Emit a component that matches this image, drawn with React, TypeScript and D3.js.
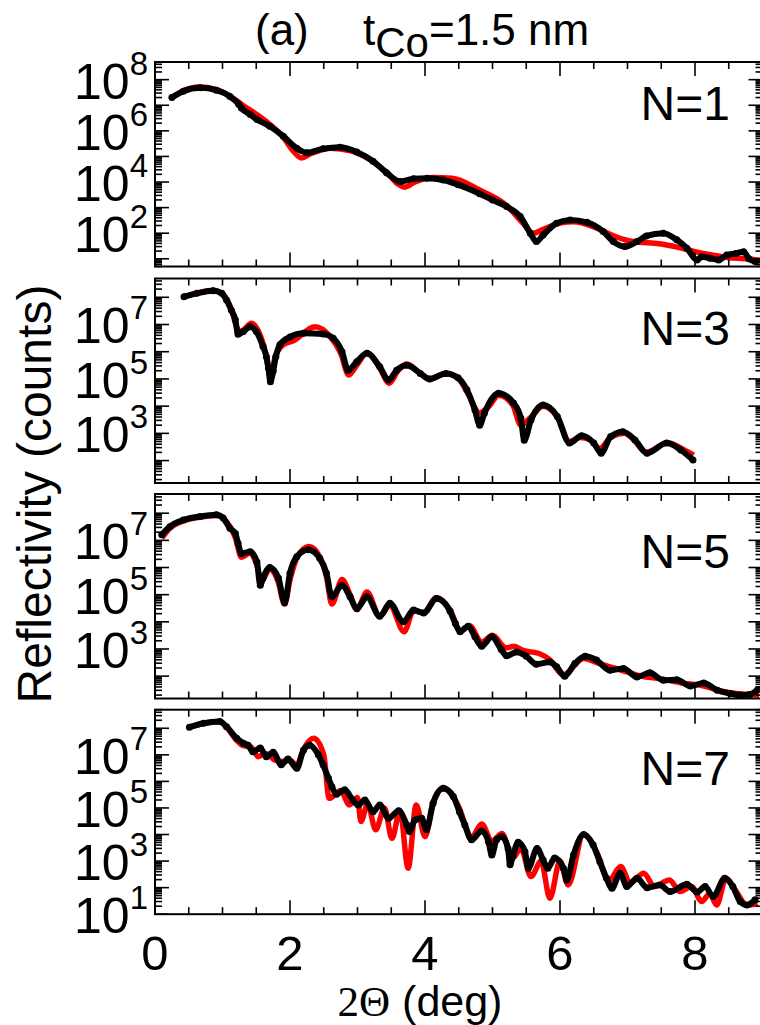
import React from "react";
import * as d3 from "d3";

const W = 760;
const H = 1025;
const LEFT = 155;
const RIGHT = 762.5;
const PANEL_TOPS = [62, 278.5, 494, 709.7];
const PANEL_H = 204.5;

// axis ranges (counts) and labelled decades per panel
const yLo = [5, 15, 15, 10];
const yHi = [4.9e8, 4.9e8, 5.1e8, 5.0e8];
const yLabelExp = [[2, 4, 6, 8], [3, 5, 7], [3, 5, 7], [1, 3, 5, 7]];
const panelNames = ["N=1", "N=3", "N=5", "N=7"];
const nameBaseline = [120, 345, 568, 785];
const xTickLabels = [0, 2, 4, 6, 8];

// N=1
const n1DataX = [0.25, 0.42, 0.67, 0.91, 1.11, 1.24, 1.28, 1.41, 1.51, 1.7, 1.9, 2.1, 2.25, 2.49, 2.74, 2.99, 3.23, 3.43, 3.63, 3.83, 4.03, 4.27, 4.49, 4.81, 5.0, 5.21, 5.41, 5.56, 5.65, 5.75, 5.95, 6.15, 6.4, 6.64, 6.79, 6.96, 7.14, 7.28, 7.53, 7.73, 7.88, 8.03, 8.1, 8.22, 8.35, 8.47, 8.6, 8.72, 8.8, 8.89];
const n1Data = [2.0e7, 3.5e7, 4.8e7, 3.9e7, 2.2e7, 1.1e7, 7.8e6, 4.4e6, 2.8e6, 1.5e6, 6.2e5, 2.1e5, 1.4e5, 2.0e5, 2.3e5, 1.5e5, 6.5e4, 2.3e4, 1.05e4, 1.35e4, 1.4e4, 1.2e4, 7.9e3, 3.5e3, 2.0e3, 1.1e3, 450, 100, 47, 85, 245, 330, 265, 117, 47, 30, 47, 78, 100, 55, 26, 8.9, 12, 10.5, 9, 14, 16, 19, 10, 7.8];
const n1FitX = [0.25, 0.45, 0.65, 0.9, 1.1, 1.3, 1.5, 1.7, 1.9, 2.05, 2.17, 2.3, 2.6, 2.9, 3.2, 3.45, 3.6, 3.7, 3.85, 4.1, 4.4, 4.8, 5.2, 5.45, 5.6, 5.75, 6.0, 6.2, 6.5, 6.75, 7.0, 7.25, 7.5, 7.75, 8.0, 8.25, 8.5, 8.75, 9.0];
const n1Fit = [2.0e7, 4.0e7, 5.2e7, 4.2e7, 2.4e7, 1.0e7, 4.5e6, 1.8e6, 5.6e5, 1.6e5, 8.7e4, 1.26e5, 2.1e5, 1.66e5, 7.1e4, 2.2e4, 8.3e3, 6.3e3, 1.0e4, 1.5e4, 1.4e4, 5.0e3, 1.26e3, 250, 100, 141, 250, 280, 178, 89, 52, 43, 38, 28, 19, 14, 11, 10, 8.5];

// N=3
const n3DataX = [0.43, 0.62, 0.86, 0.99, 1.06, 1.13, 1.19, 1.23, 1.31, 1.41, 1.5, 1.6, 1.65, 1.68, 1.71, 1.75, 1.79, 1.85, 2.0, 2.2, 2.49, 2.64, 2.77, 2.86, 2.99, 3.14, 3.33, 3.46, 3.58, 3.73, 3.93, 4.07, 4.31, 4.49, 4.62, 4.74, 4.81, 4.88, 5.09, 5.31, 5.42, 5.47, 5.57, 5.75, 5.96, 6.14, 6.32, 6.5, 6.61, 6.75, 6.93, 7.11, 7.29, 7.58, 7.79, 7.97];
const n3Data = [1.05e8, 1.4e8, 1.74e8, 1.4e8, 7.9e7, 3.4e7, 1.5e7, 4.4e6, 5.5e6, 8.3e6, 5.5e6, 1.55e6, 6.6e5, 2.5e5, 7.9e4, 1.9e5, 6.6e5, 1.8e6, 3.5e6, 4.8e6, 4.5e6, 3.1e6, 1.0e6, 2.1e5, 4.3e5, 8.7e5, 2.8e5, 9.1e4, 2.1e5, 3.2e5, 1.6e5, 1.0e5, 1.6e5, 1.1e5, 4.0e4, 7.2e3, 2.0e3, 5.5e3, 3.0e4, 1.3e4, 3.6e3, 560, 3.1e3, 1.1e4, 4.2e3, 440, 810, 440, 186, 760, 1.15e3, 575, 186, 440, 245, 105];
const n3FitX = [0.43, 0.62, 0.86, 1.0, 1.08, 1.15, 1.22, 1.27, 1.43, 1.55, 1.63, 1.71, 1.78, 1.9, 2.05, 2.37, 2.6, 2.75, 2.87, 3.0, 3.14, 3.33, 3.47, 3.6, 3.73, 3.93, 4.07, 4.31, 4.5, 4.65, 4.8, 4.95, 5.09, 5.3, 5.42, 5.57, 5.75, 5.96, 6.14, 6.3, 6.45, 6.59, 6.75, 6.95, 7.1, 7.27, 7.6, 7.8, 7.98];
const n3Fit = [1.05e8, 1.4e8, 1.8e8, 1.3e8, 7.1e7, 2.5e7, 7.1e6, 5.6e6, 1.1e7, 4.5e6, 1.1e6, 1.4e5, 6.3e5, 1.8e6, 2.5e6, 8.3e6, 3.5e6, 8.9e5, 1.4e5, 3.5e5, 8.9e5, 2.5e5, 6.9e4, 2.0e5, 3.5e5, 1.6e5, 9.5e4, 1.6e5, 1.0e5, 2.5e4, 5.6e3, 1.0e4, 2.5e4, 1.1e4, 2.0e3, 4.0e3, 1.0e4, 4.0e3, 500, 710, 560, 280, 710, 1.0e3, 560, 200, 450, 280, 160];

// N=5
const n5DataX = [0.1, 0.22, 0.42, 0.67, 0.91, 1.01, 1.11, 1.19, 1.23, 1.28, 1.41, 1.51, 1.56, 1.6, 1.7, 1.83, 1.92, 2.0, 2.1, 2.27, 2.44, 2.54, 2.62, 2.77, 2.89, 2.99, 3.14, 3.33, 3.48, 3.68, 3.83, 3.98, 4.17, 4.37, 4.45, 4.52, 4.64, 4.74, 4.84, 4.99, 5.13, 5.21, 5.36, 5.5, 5.65, 5.85, 5.95, 6.07, 6.22, 6.37, 6.54, 6.74, 6.94, 7.14, 7.33, 7.53, 7.73, 7.93, 8.13, 8.33, 8.52, 8.67, 8.81, 8.93];
const n5Data = [1.6e7, 3.2e7, 5.6e7, 7.6e7, 8.7e7, 6.6e7, 2.8e7, 1.8e7, 7.8e6, 3.3e6, 3.8e6, 1.6e6, 2.2e5, 4.0e5, 1.0e6, 4.0e5, 5.0e4, 6.2e5, 2.5e6, 4.5e6, 2.2e6, 6.2e5, 8.3e4, 2.2e5, 8.3e4, 3.1e4, 8.3e4, 1.6e4, 4.8e4, 1.0e4, 2.7e4, 2.1e4, 7.2e4, 2.5e4, 8.7e3, 4.3e3, 6.9e3, 2.8e3, 1.26e3, 2.8e3, 950, 560, 780, 540, 275, 330, 220, 100, 290, 540, 390, 166, 190, 93, 132, 71, 74, 43, 56, 30, 23, 20, 21, 32];
const n5FitX = [0.1, 0.22, 0.42, 0.67, 0.91, 1.01, 1.11, 1.19, 1.28, 1.41, 1.5, 1.58, 1.7, 1.82, 1.92, 2.0, 2.1, 2.28, 2.44, 2.54, 2.62, 2.77, 2.89, 2.99, 3.14, 3.33, 3.48, 3.69, 3.83, 3.98, 4.17, 4.37, 4.52, 4.66, 4.84, 5.0, 5.2, 5.32, 5.45, 5.69, 5.85, 6.05, 6.35, 6.6, 6.8, 7.0, 7.2, 7.5, 7.8, 8.1, 8.4, 8.7, 8.95];
const n5Fit = [1.2e7, 2.8e7, 5.2e7, 7.2e7, 8.3e7, 6.6e7, 3.2e7, 1.26e7, 2.4e6, 3.5e6, 1.4e6, 3.2e5, 8.9e5, 3.2e5, 4.5e4, 3.5e5, 2.2e6, 5.9e6, 2.5e6, 4.5e5, 4.5e4, 3.6e5, 1.0e5, 2.8e4, 1.26e5, 1.6e4, 4.0e4, 4.3e3, 2.5e4, 2.2e4, 7.9e4, 2.8e4, 5.0e3, 7.1e3, 1.8e3, 3.2e3, 1.1e3, 1.26e3, 890, 680, 400, 112, 450, 280, 200, 141, 100, 79, 56, 45, 28, 22, 20];

// N=7
const n7DataX = [0.51, 0.72, 0.96, 1.06, 1.21, 1.31, 1.38, 1.45, 1.56, 1.65, 1.75, 1.87, 1.97, 2.1, 2.2, 2.29, 2.42, 2.49, 2.57, 2.62, 2.69, 2.81, 2.93, 3.01, 3.11, 3.23, 3.33, 3.46, 3.61, 3.73, 3.77, 3.85, 3.95, 4.02, 4.12, 4.27, 4.42, 4.51, 4.59, 4.69, 4.84, 4.94, 4.99, 5.06, 5.14, 5.23, 5.26, 5.3, 5.38, 5.48, 5.53, 5.66, 5.75, 5.82, 5.92, 6.05, 6.1, 6.2, 6.35, 6.49, 6.59, 6.69, 6.77, 6.89, 6.99, 7.14, 7.29, 7.48, 7.63, 7.88, 8.03, 8.15, 8.27, 8.44, 8.56, 8.67, 8.77, 8.89];
const n7Data = [1.1e8, 1.55e8, 1.8e8, 1.15e8, 4.2e7, 2.75e7, 2.3e7, 1.3e7, 1.8e7, 8.5e6, 1.26e7, 4.2e6, 6.9e6, 3.1e6, 1.5e7, 2.3e7, 1.0e7, 4.2e6, 1.3e6, 6.3e5, 3.3e5, 4.8e5, 2.0e5, 1.3e5, 2.0e5, 7.2e4, 1.3e5, 4.1e4, 7.8e4, 2.3e4, 1.3e4, 3.5e4, 4.1e4, 1.5e4, 1.5e5, 5.5e5, 2.7e5, 7.2e4, 2.3e4, 6.3e3, 1.35e4, 5.4e3, 1.7e3, 6.3e3, 8.3e3, 3.0e3, 720, 1.5e3, 5.1e3, 2.3e3, 540, 3.0e3, 1.1e3, 540, 1.3e3, 540, 195, 1.7e3, 1.0e4, 4.1e3, 950, 224, 95, 350, 110, 224, 100, 126, 71, 135, 68, 110, 46, 224, 110, 30, 22, 35];
const n7FitX = [0.51, 0.72, 0.96, 1.06, 1.21, 1.31, 1.42, 1.53, 1.65, 1.78, 1.9, 2.0, 2.1, 2.2, 2.35, 2.5, 2.58, 2.75, 2.88, 3.0, 3.05, 3.15, 3.27, 3.4, 3.51, 3.63, 3.75, 3.87, 4.0, 4.12, 4.27, 4.49, 4.69, 4.84, 4.99, 5.14, 5.3, 5.42, 5.57, 5.72, 5.85, 6.0, 6.12, 6.35, 6.55, 6.72, 6.9, 7.04, 7.24, 7.4, 7.62, 7.78, 7.95, 8.1, 8.22, 8.32, 8.46, 8.6, 8.77, 8.93];
const n7Fit = [1.1e8, 1.55e8, 1.8e8, 1.1e8, 3.5e7, 2.2e7, 2.0e7, 8.5e6, 1.1e7, 6.3e6, 5.6e6, 6.3e6, 4.0e6, 1.6e7, 4.2e7, 1.0e7, 2.3e5, 4.5e5, 1.3e5, 2.5e5, 3.1e4, 1.4e5, 1.5e4, 1.0e5, 7.2e3, 7.9e4, 540, 1.3e5, 8.3e3, 1.6e5, 5.5e5, 1.26e5, 7.9e3, 2.5e4, 5.6e3, 1.1e4, 1.3e3, 3.0e3, 260, 1.0e3, 40, 1.0e3, 126, 1.0e4, 2.0e3, 178, 620, 150, 350, 110, 195, 71, 110, 30, 60, 22, 224, 79, 22, 25];

const panels = [
  { dx: n1DataX, dy: n1Data, fx: n1FitX, fy: n1Fit },
  { dx: n3DataX, dy: n3Data, fx: n3FitX, fy: n3Fit },
  { dx: n5DataX, dy: n5Data, fx: n5FitX, fy: n5Fit },
  { dx: n7DataX, dy: n7Data, fx: n7FitX, fy: n7Fit },
];

const FONT = "'Liberation Sans', Arial, Helvetica, sans-serif";

const x = d3.scaleLinear().domain([0, 9]).range([LEFT, RIGHT]);

function Panel({ i }: { i: number }) {
  const top = PANEL_TOPS[i];
  const bottom = top + PANEL_H;
  const y = d3.scaleLog().domain([yLo[i], yHi[i]]).range([bottom, top]);
  const p = panels[i];
  const fit = p.fx.map((v, k) => [v, p.fy[k]] as [number, number]);
  const dat = p.dx.map((v, k) => [v, p.dy[k]] as [number, number]);
  const line = d3
    .line<[number, number]>()
    .x((d) => x(d[0]))
    .y((d) => y(d[1]))
    .curve(d3.curveMonotoneX);

  // log ticks: one long tick per decade, short ones at 2..9
  const minor: number[] = [];
  const major: number[] = [];
  const e0 = Math.floor(Math.log10(yLo[i]));
  const e1 = Math.ceil(Math.log10(yHi[i]));
  for (let e = e0; e <= e1; e++) {
    for (let k = 1; k < 10; k++) {
      const v = k * Math.pow(10, e);
      if (v < yLo[i] * 0.999 || v > yHi[i]) continue;
      if (k === 1) major.push(v);
      else minor.push(v);
    }
  }
  const xMinor = d3.range(0, 9.01, 0.5).filter((v) => v % 2 !== 0);
  const xMajor = d3.range(0, 9.01, 2);

  const clipId = `clip${i}`;
  return (
    <g>
      <defs>
        <clipPath id={clipId}>
          <rect x={LEFT} y={top} width={RIGHT - LEFT} height={PANEL_H} />
        </clipPath>
      </defs>
      <g clipPath={`url(#${clipId})`}>
        <path d={line(fit) || ""} fill="none" stroke="#ff0000" strokeWidth={5.5} strokeLinejoin="round" />
        <path d={line(dat) || ""} fill="none" stroke="#000" strokeWidth={6} strokeLinejoin="round" />
        {dat.map((d, k) => (
          <circle key={k} cx={x(d[0])} cy={y(d[1])} r={3.5} fill="#000" />
        ))}
      </g>
      <g stroke="#000" strokeWidth={1.6}>
        {major.map((v) => (
          <g key={"M" + v}>
            <line x1={LEFT} x2={LEFT + 14} y1={y(v)} y2={y(v)} />
            <line x1={RIGHT} x2={RIGHT - 14} y1={y(v)} y2={y(v)} />
          </g>
        ))}
        {minor.map((v) => (
          <g key={"m" + v}>
            <line x1={LEFT} x2={LEFT + 7} y1={y(v)} y2={y(v)} />
            <line x1={RIGHT} x2={RIGHT - 7} y1={y(v)} y2={y(v)} />
          </g>
        ))}
        {xMajor.map((v) => (
          <g key={"X" + v}>
            <line x1={x(v)} x2={x(v)} y1={top} y2={top + 14} />
            <line x1={x(v)} x2={x(v)} y1={bottom} y2={bottom - 14} />
          </g>
        ))}
        {xMinor.map((v) => (
          <g key={"x" + v}>
            <line x1={x(v)} x2={x(v)} y1={top} y2={top + 7} />
            <line x1={x(v)} x2={x(v)} y1={bottom} y2={bottom - 7} />
          </g>
        ))}
      </g>
      <rect x={LEFT} y={top} width={RIGHT - LEFT} height={PANEL_H} fill="none" stroke="#000" strokeWidth={2} />
      {yLabelExp[i].map((e) => (
        <text key={e} x={LEFT - 7} y={y(Math.pow(10, e)) + 19} textAnchor="end" fontFamily={FONT} fontSize={50} fill="#000">
          10
          <tspan dy={-24} fontSize={33}>{e}</tspan>
        </text>
      ))}
      <text x={730} y={nameBaseline[i]} textAnchor="end" fontFamily={FONT} fontSize={48} fill="#000">
        {panelNames[i]}
      </text>
    </g>
  );
}

export default function App() {
  const lastBottom = PANEL_TOPS[3] + PANEL_H;
  return (
    <svg width={W} height={H} viewBox={`0 0 ${W} ${H}`} style={{ position: "absolute", left: 0, top: 0, background: "#fff" }}>
      <rect width={W} height={H} fill="#fff" />
      <text x={255} y={45} fontFamily={FONT} fontSize={44} fill="#000">(a)</text>
      <text x={363} y={45} fontFamily={FONT} fontSize={44} fill="#000">
        t<tspan dy={12} fontSize={42}>Co</tspan>
        <tspan dy={-12} fontSize={44}>=1.5 nm</tspan>
      </text>
      {panels.map((_, i) => (
        <Panel key={i} i={i} />
      ))}
      {xTickLabels.map((v) => (
        <text key={v} x={x(v)} y={lastBottom + 56} textAnchor="middle" fontFamily={FONT} fontSize={49} fill="#000">
          {v}
        </text>
      ))}
      <text x={420} y={1016} textAnchor="middle" fontSize={43} fill="#000">
        <tspan fontFamily="'Liberation Serif', 'Times New Roman', serif">2Θ</tspan>
        <tspan fontFamily={FONT}> (deg)</tspan>
      </text>
      <text transform="translate(51,494) rotate(-90)" textAnchor="middle" fontFamily={FONT} fontSize={48} fill="#000">
        Reflectivity (counts)
      </text>
    </svg>
  );
}
